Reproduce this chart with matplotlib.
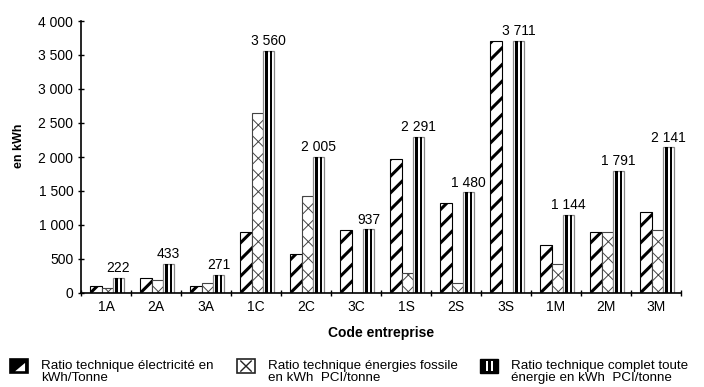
import matplotlib
matplotlib.use('Agg')
import matplotlib.pyplot as plt
import numpy as np
from matplotlib.patches import Patch, Rectangle, Polygon
from matplotlib.lines import Line2D
from matplotlib.ticker import FuncFormatter, MultipleLocator

plt.rcParams['font.family'] = ['Liberation Sans', 'DejaVu Sans']

codes = ['1A', '2A', '3A', '1C', '2C', '3C', '1S', '2S', '3S', '1M', '2M', '3M']
elec = [110, 225, 100, 900, 570, 930, 1970, 1320, 3700, 700, 900, 1190]
fossile = [80, 190, 150, 2650, 1420, 0, 300, 150, 0, 420, 900, 930]
complet = [222, 433, 271, 3560, 2005, 937, 2291, 1480, 3711, 1144, 1791, 2141]

labels = ['Ratio technique électricité en\nkWh/Tonne',
          'Ratio technique énergies fossile\nen kWh  PCI/tonne',
          'Ratio technique complet toute\nénergie en kWh  PCI/tonne']


def fmt(v, pos=None):
    return f'{int(v):,}'.replace(',', ' ')


def hatch_lw(patches, lw):
    for p in patches:
        if hasattr(p, 'set_hatch_linewidth'):
            p.set_hatch_linewidth(lw)


fig = plt.figure(figsize=(7.04, 3.87), dpi=100)
ax = fig.add_axes([81 / 704, 94 / 387, 600 / 704, 272 / 387])

x = np.arange(len(codes))
w = 0.225
shift = 0.025

b1 = ax.bar(x - w + shift, elec, w, color='white', edgecolor='black',
            hatch='//', linewidth=0.8)
hatch_lw(b1, 2.2)
b2 = ax.bar(x + shift, fossile, w, color='white', edgecolor='#444444',
            hatch='xx', linewidth=0.8)
hatch_lw(b2, 0.7)
b3 = ax.bar(x + w + shift, complet, w, color='white', edgecolor='#888888',
            linewidth=0.9)
# two black stripes inside each "complet" bar
for off in (-0.045, 0.045):
    ax.bar(x + w + shift + off, complet, 0.05, color='black', linewidth=0)

for xi, v in zip(x, complet):
    ax.annotate(fmt(v), (xi + w + shift, v), xytext=(0, 2),
                textcoords='offset points', ha='center', va='bottom',
                fontsize=10)

ax.set_xlim(-0.5, len(codes) - 0.5)
ax.set_ylim(0, 4000)
ax.yaxis.set_major_locator(MultipleLocator(500))
ax.yaxis.set_major_formatter(FuncFormatter(fmt))
ax.set_xticks(x)
ax.set_xticklabels(codes)
ax.set_xticks(np.arange(-0.5, len(codes) + 0.5, 1), minor=True)
ax.tick_params(axis='x', which='major', length=0, labelsize=10, pad=5)
ax.tick_params(axis='x', which='minor', direction='inout', length=5, width=1)
ax.tick_params(axis='y', direction='inout', length=5, width=1, labelsize=10, pad=3)

for s in ('top', 'right'):
    ax.spines[s].set_visible(False)
for s in ('left', 'bottom'):
    ax.spines[s].set_linewidth(1.2)

ax.set_ylabel('en kWh', fontsize=9, fontweight='bold')
ax.yaxis.set_label_coords(-0.093, 0.54)
ax.set_xlabel('Code entreprise', fontsize=10, fontweight='bold', labelpad=9)


class ElecHandler:
    def legend_artist(self, legend, orig_handle, fontsize, handlebox):
        x0, y0 = handlebox.xdescent, handlebox.ydescent
        wd, ht = handlebox.width, handlebox.height
        t = handlebox.get_transform()
        handlebox.add_artist(Rectangle((x0, y0), wd, ht, facecolor='black',
                                       edgecolor='black', lw=1.2, transform=t))
        tri = [(x0 + 0.85 * wd, y0 + 0.15 * ht), (x0 + 0.85 * wd, y0 + 0.72 * ht),
               (x0 + 0.28 * wd, y0 + 0.15 * ht)]
        handlebox.add_artist(Polygon(tri, facecolor='white', lw=0, transform=t))
        return handlebox


class FossileHandler:
    def legend_artist(self, legend, orig_handle, fontsize, handlebox):
        x0, y0 = handlebox.xdescent, handlebox.ydescent
        wd, ht = handlebox.width, handlebox.height
        t = handlebox.get_transform()
        handlebox.add_artist(Rectangle((x0, y0), wd, ht, facecolor='white',
                                       edgecolor='#222222', lw=1.2, transform=t))
        for ya, yb in ((0.15, 0.85), (0.85, 0.15)):
            handlebox.add_artist(Line2D([x0 + 0.2 * wd, x0 + 0.8 * wd],
                                        [y0 + ya * ht, y0 + yb * ht],
                                        color='#222222', lw=1, transform=t))
        return handlebox


class CompletHandler:
    def legend_artist(self, legend, orig_handle, fontsize, handlebox):
        x0, y0 = handlebox.xdescent, handlebox.ydescent
        wd, ht = handlebox.width, handlebox.height
        t = handlebox.get_transform()
        handlebox.add_artist(Rectangle((x0, y0), wd, ht, facecolor='black',
                                       edgecolor='black', transform=t))
        for fx in (0.3, 0.6):
            handlebox.add_artist(Rectangle((x0 + fx * wd, y0 + 0.15 * ht),
                                           0.12 * wd, 0.7 * ht,
                                           facecolor='white', lw=0, transform=t))
        return handlebox


handles = [Patch(), Patch(), Patch()]
handlers = [ElecHandler(), FossileHandler(), CompletHandler()]
lefts = [7, 234, 477]
for h, hd, lab, lx in zip(handles, handlers, labels, lefts):
    leg = fig.legend([h], [lab], loc='lower left',
                     bbox_to_anchor=(lx / 704, 0.0),
                     frameon=False, fontsize=9.6, handlelength=1.3,
                     handleheight=1.3, handletextpad=1.0, borderpad=0.25,
                     borderaxespad=0.0, handler_map={h: hd})
    for txt in leg.get_texts():
        txt.set_linespacing(1.0)

fig.savefig('out.png', dpi=100)
